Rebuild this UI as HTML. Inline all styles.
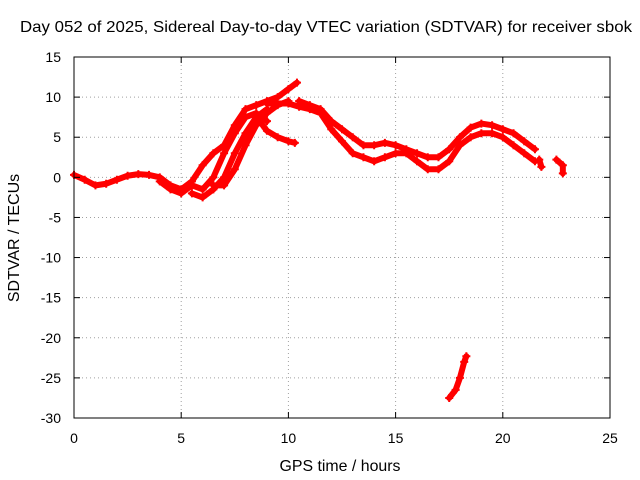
<!DOCTYPE html>
<html><head><meta charset="utf-8"><style>
body{margin:0;background:#fff}
svg{display:block;font-family:"Liberation Sans",sans-serif}
</style></head><body>
<svg id="chart" width="640" height="480">
<text x="326" y="32" text-anchor="middle" font-size="16" textLength="612" lengthAdjust="spacingAndGlyphs">Day 052 of 2025, Sidereal Day-to-day VTEC variation (SDTVAR) for receiver sbok</text>
<text x="340" y="471" text-anchor="middle" font-size="16" textLength="121" lengthAdjust="spacingAndGlyphs">GPS time / hours</text>
<text x="19" y="238" text-anchor="middle" font-size="16" transform="rotate(-90 19 238)">SDTVAR / TECUs</text>
<g id="grid"></g><g id="series"></g><g id="axes"></g>
</svg>
<script>
const xTicks=[0,5,10,15,20,25];
const yTicks=[15,10,5,0,-5,-10,-15,-20,-25,-30];
const trackA=[[0,0.3],[0.5,-0.3],[1,-1],[1.5,-0.8],[2,-0.3],[2.5,0.2],[3,0.4],[3.5,0.3],[4,0],[4.5,-1],[5,-1.5],[5.5,-0.5],[6,1.5],[6.5,3],[7,4],[7.5,6.5],[8,8.5],[8.5,9],[9,9.5],[9.5,10],[10,11],[10.4,11.8]];
const trackB=[[9,9.2],[10,9.2],[10.5,8.8],[11,8.5],[11.5,8],[12,6],[12.5,4.5],[13,3],[13.5,2.5],[14,2],[14.5,2.5],[15,3],[15.5,3],[16,2],[16.5,1],[17,1],[17.5,2],[18,4],[18.5,5],[19,5.5],[19.5,5.5],[20,5],[20.5,4],[21,3],[21.5,2]];
const trackC=[[4,-0.5],[4.5,-1.5],[5,-2],[5.5,-1],[6,-1.5],[6.5,0],[7,3],[7.5,5.5],[8,7.5],[8.5,8],[9,7]];
const trackD=[[5.5,-2],[6,-2.5],[6.5,-1.5],[7,0],[7.5,3],[8,5.5],[8.5,7.5],[9,8.5]];
const trackE=[[6.5,-1],[7,-1],[7.5,1],[8,4],[8.5,6.5],[9,8],[9.5,9],[10,9.5]];
const trackF=[[8.8,6.5],[9,5.8],[9.5,5],[10,4.5],[10.3,4.3]];
const trackG=[[10.5,9.5],[11,9],[11.5,8.5],[12,7],[12.5,6],[13,5],[13.5,4],[14,4],[14.5,4.3],[15,4],[15.5,3.5],[16,3],[16.5,2.5],[17,2.5],[17.5,3.5],[18,5],[18.5,6.2],[19,6.7],[19.5,6.5],[20,6],[20.5,5.5],[21,4.5],[21.5,3.5]];
const trackH=[[21.7,2.2],[21.8,1.3]];
const trackI=[[22.5,2.2],[22.8,1.5],[22.8,0.5]];
const trackJ=[[17.5,-27.5],[17.8,-26.5],[18,-25],[18.2,-23],[18.3,-22.3]];
const tracks=[trackA,trackB,trackC,trackD,trackE,trackF,trackG,trackH,trackI,trackJ];
const X0=74,X1=610,Y0=418,Y1=57;
const sx=v=>X0+(v-0)/25*(X1-X0);
const sy=v=>Y0-(v+30)/45*(Y0-Y1);
const NS="http://www.w3.org/2000/svg";
function mk(t,a,p){const e=document.createElementNS(NS,t);for(const k in a)e.setAttribute(k,a[k]);p.appendChild(e);return e;}
const grid=document.getElementById('grid'),axes=document.getElementById('axes'),ser=document.getElementById('series');
xTicks.forEach(v=>{const x=sx(v);
 if(v>0&&v<25){const g=mk('line',{x1:x,x2:x,y1:Y1,y2:Y0,stroke:'#a0a0a0','stroke-dasharray':'1,3'},grid);}
 mk('line',{x1:x,x2:x,y1:Y0,y2:Y0-6,stroke:'#000'},axes);mk('line',{x1:x,x2:x,y1:Y1,y2:Y1+6,stroke:'#000'},axes);
 const t=mk('text',{x:x,y:443,'text-anchor':'middle','font-size':14},axes);t.textContent=v;
 });
yTicks.forEach(v=>{const y=sy(v);
 if(v>-30&&v<15){const g=mk('line',{x1:X0,x2:X1,y1:y,y2:y,stroke:'#a0a0a0','stroke-dasharray':'1,3'},grid);}
 mk('line',{x1:X0,x2:X0+6,y1:y,y2:y,stroke:'#000'},axes);mk('line',{x1:X1,x2:X1-6,y1:y,y2:y,stroke:'#000'},axes);
 const t=mk('text',{x:61,y:y+5,'text-anchor':'end','font-size':14},axes);t.textContent=v;
 });
const fr=mk('rect',{x:X0,y:Y1,width:X1-X0,height:Y0-Y1,fill:'none',stroke:'#000'},axes);

tracks.forEach((tr,i)=>{
 const pl=mk('polyline',{points:tr.map(p=>sx(p[0])+','+sy(p[1])).join(' '),fill:'none',stroke:'#ff0000','stroke-width':6,'stroke-linejoin':'round','stroke-linecap':'round'},ser);
 
 
 tr.forEach(p=>{const x=sx(p[0]),y=sy(p[1]);
  const m=mk('path',{d:`M${x-4},${y}H${x+4}M${x},${y-4}V${y+4}`,stroke:'#ff0000','stroke-width':2},ser);
  
  });
});
</script>
</body></html>
